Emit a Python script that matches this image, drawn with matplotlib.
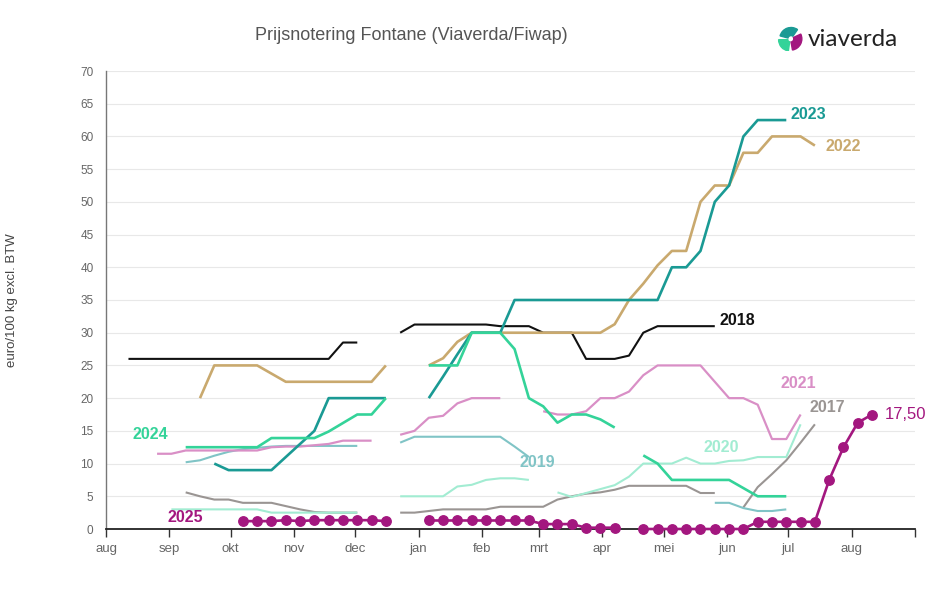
import numpy as np
import matplotlib
matplotlib.use('Agg')
import matplotlib.pyplot as plt
from matplotlib.patches import Wedge

N = np.nan

# x axis: days since 1 August, weekly quotations
month_labels = ['aug', 'sep', 'okt', 'nov', 'dec', 'jan', 'feb', 'mrt', 'apr',
                'mei', 'jun', 'jul', 'aug', '']
month_days = [0, 31, 61, 92, 122, 153, 184, 212, 243, 273, 304, 334, 365, 396]
week_days = np.arange(4, 380, 7)  # 54 weekly quotation days

v2017 = [N, N, N, N, N, 5.6, 5.0, 4.5, 4.5, 4.0, 4.0, 4.0, 3.5, 3.0, 2.6, 2.5, 2.5, 2.5,
         N, N, 2.5, 2.5, 2.75, 3.0, 3.0, 3.0, 3.0, 3.4, 3.4, 3.4, 3.4, 4.5, 5.0, 5.4, 5.6,
         6.0, 6.6, 6.6, 6.6, 6.6, 6.6, 5.5, 5.5, N, 3.3, 6.4, 8.4, 10.5, 13.2, 16.0,
         N, N, N, N]
v2018 = [N] + [26] * 15 + [28.5, 28.5, N, N, 30] + [31.25] * 6 + \
        [31, 31, 31, 30, 30, 30, 26, 26, 26, 26.5, 30, 31, 31, 31, 31, 31] + [N] * 11
v2019 = [N] * 5 + [10.2, 10.5, 11.2, 11.8, 12.2, 12.4, 12.6] + [12.7] * 6 + [N, N, 13.2] + \
        [14.1] * 7 + [12.6, 11.0] + [N] * 12 + [4.0, 4.0, 3.2, 2.75, 2.75, 3.0] + [N] * 6
v2020 = [N] * 4 + [3.0] * 7 + [2.5] * 7 + [N, N] + [5.0] * 4 + \
        [6.5, 6.75, 7.5, 7.75, 7.75, 7.5, N,
         5.6, 4.9, 5.5, 6.1, 6.7, 8.0, 10, 10, 10, 10.9, 10, 10, 10.4, 10.5, 11, 11, 11, 16] + [N] * 5
v2021 = [N] * 3 + [11.5, 11.5] + [12.0] * 6 + \
        [12.5, 12.6, 12.6, 12.8, 13.0, 13.5, 13.5, 13.5, N,
         14.4, 15.0, 17.0, 17.3, 19.2, 20, 20, 20, N, N,
         18, 17.5, 17.5, 18, 20, 20, 21, 23.5, 25, 25, 25, 25, 22.5, 20, 20, 19, 13.75, 13.75, 17.5] + [N] * 5
v2022 = [N] * 6 + [20] + [25] * 4 + [23.75] + [22.5] * 7 + [25, N, N, 25, 26.1, 28.6] + [30] * 10 + \
        [31.3, 35, 37.5, 40.3, 42.5, 42.5, 50, 52.5, 52.5, 57.5, 57.5, 60, 60, 60, 58.6] + [N] * 4
v2023 = [N] * 7 + [10] + [9] * 4 + [11, 13, 15] + [20] * 5 + [N, N, 20, 23.3, 26.7] + [30] * 3 + \
        [35] * 11 + [40, 40, 42.5, 50, 52.5, 60, 62.5, 62.5, 62.5] + [N] * 6
v2024 = [N] * 5 + [12.5] * 6 + [13.9] * 4 + [14.9, 16.2, 17.5, 17.5, 20, N, N] + [25] * 3 + [30] * 3 + \
        [27.5, 20, 18.75, 16.25, 17.5, 17.5, 16.75, 15.5, N, 11.25, 10] + [7.5] * 5 + \
        [6.25, 5, 5, 5] + [N] * 6
v2025 = [N] * 9 + [1.2, 1.2, 1.2, 1.35, 1.2, 1.35, 1.35, 1.35, 1.35, 1.35, 1.2, N, N] + [1.3] * 8 + \
        [0.75] * 3 + [0.2] * 3 + [N] + [0] * 8 + [1.1] * 5 + [7.5, 12.5, 16.25, 17.5]

series = [
    ('2017', v2017, '#9a9593', 1.5),
    ('2019', v2019, '#80c4c6', 1.5),
    ('2020', v2020, '#a2ecd2', 1.5),
    ('2021', v2021, '#d98fc6', 1.6),
    ('2018', v2018, '#111111', 1.5),
    ('2022', v2022, '#c9a96e', 1.9),
    ('2023', v2023, '#1a9a94', 1.9),
    ('2024', v2024, '#34d399', 1.9),
]

# label anchors (day, value)
label_pos = {
    '2017': (353, 18.5), '2018': (309, 31.9), '2019': (211, 10.2), '2020': (301, 12.5),
    '2021': (339, 22.2), '2022': (361, 58.4), '2023': (344, 63.3), '2024': (21.5, 14.4),
    '2025': (38.6, 1.7),
}

plt.rcParams['font.family'] = ['Liberation Sans', 'DejaVu Sans']
W, H = 941, 614
fig = plt.figure(figsize=(W / 100, H / 100), dpi=100)
fig.patch.set_facecolor('white')
ax = fig.add_axes([106 / W, 1 - 529 / H, (915 - 106) / W, (529 - 71) / H])

for name, vals, col, lw in series:
    ax.plot(week_days, vals, color=col, lw=lw, solid_joinstyle='round',
            solid_capstyle='butt', zorder=3)
    x, y = label_pos[name]
    ax.text(x, y, name, color=col, fontsize=11.5, fontweight='bold', ha='center', va='center')

c25 = '#a3177f'
ax.plot(week_days, v2025, color=c25, lw=1.9, marker='o', markersize=6.8,
        zorder=5, clip_on=False)
x, y = label_pos['2025']
ax.text(x, y, '2025', color=c25, fontsize=11.5, fontweight='bold', ha='center', va='center')
last_val = [v for v in v2025 if not np.isnan(v)][-1]
ax.text(381, last_val, f'{last_val:.2f}'.replace('.', ','), color=c25, fontsize=12,
        ha='left', va='center')

ax.set_xlim(0, 396)
ax.set_ylim(0, 70)
ax.set_yticks(range(0, 71, 5))
ax.set_xticks(month_days)
ax.set_xticklabels(month_labels)
ax.tick_params(axis='y', length=0, pad=9, labelsize=8.5, labelcolor='#666666')
ax.tick_params(axis='x', length=6, width=1, color='#333333', pad=4, labelsize=9.5,
               labelcolor='#666666')
ax.yaxis.grid(True, color='#e8e8e8', lw=0.8)
ax.set_axisbelow(True)
for s in ('top', 'right'):
    ax.spines[s].set_visible(False)
ax.spines['left'].set_color('#777777')
ax.spines['left'].set_linewidth(1)
ax.spines['bottom'].set_color('#222222')
ax.spines['bottom'].set_linewidth(1.3)
ax.spines['bottom'].set_zorder(4)

fig.text(411 / W, 1 - 35 / H, 'Prijsnotering Fontane (Viaverda/Fiwap)', ha='center',
         va='center', fontsize=13, color='#555555')
fig.text(12 / W, 1 - 300 / H, 'euro/100 kg excl. BTW', rotation=90, ha='center',
         va='center', fontsize=9.5, color='#444444')

# logo
lax = fig.add_axes([777 / W, 1 - 51 / H, 27 / W, 27 / H])
lax.set_xlim(0, 1)
lax.set_ylim(0, 1)
lax.set_aspect('equal')
lax.axis('off')
lax.add_patch(Wedge((0.52, 0.45), 0.42, 55, 165, width=0.3, color='#1a9a94'))
lax.add_patch(Wedge((0.48, 0.42), 0.42, 180, 262, width=0.34, color='#34d399'))
lax.add_patch(Wedge((0.5, 0.45), 0.42, 280, 25, width=0.3, color='#a3177f'))
fig.text(808 / W, 1 - 40 / H, 'viaverda', ha='left', va='center', fontsize=17.5,
         color='#222222', family=['Lato', 'DejaVu Sans'])

fig.savefig('out.png', dpi=100, facecolor='white')
